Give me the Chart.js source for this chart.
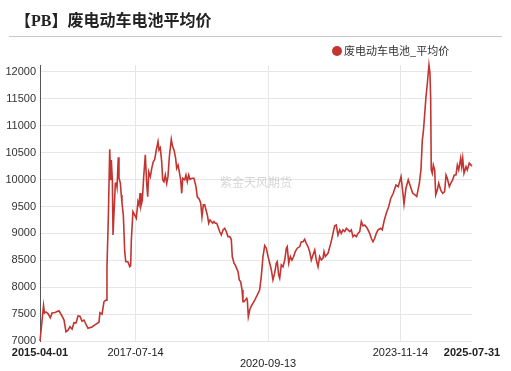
<!DOCTYPE html>
<html>
<head>
<meta charset="utf-8">
<script src="https://cdn.jsdelivr.net/npm/chart.js@4"></script>
<style>
  html, body { margin: 0; padding: 0; background: #fff; }
  #wrap { width: 511px; height: 371px; }
</style>
</head>
<body>
<div id="wrap"><canvas id="chart" width="511" height="371"></canvas></div>
<script>
var titleText = '【PB】废电动车电池平均价';
var seriesName = '废电动车电池_平均价';
var watermark = '紫金天风期货';

var dates = [
  '2015-04-01','2015-05-02','2015-05-10','2015-05-23','2015-06-10','2015-06-30','2015-07-15','2015-08-10','2015-09-14','2015-10-10',
  '2015-10-28','2015-11-14','2015-12-02','2015-12-19','2016-01-06','2016-01-23','2016-02-10','2016-02-27','2016-03-15','2016-04-02',
  '2016-04-19','2016-05-02','2016-05-24','2016-06-28','2016-08-02','2016-08-28','2016-09-06','2016-09-24','2016-10-11','2016-10-29',
  '2016-11-06','2016-11-15','2016-11-18','2016-11-30','2016-12-09','2016-12-14','2016-12-23','2016-12-29','2017-01-06','2017-01-18',
  '2017-01-27','2017-02-02','2017-02-13','2017-02-19','2017-03-03','2017-03-11','2017-03-17','2017-03-29','2017-04-10','2017-04-19',
  '2017-05-09','2017-05-24','2017-06-01','2017-06-07','2017-06-21','2017-07-06','2017-07-20','2017-08-04','2017-08-13','2017-08-22',
  '2017-08-30','2017-09-11','2017-09-23','2017-10-07','2017-10-19','2017-10-28','2017-11-06','2017-11-20','2017-12-02','2017-12-16',
  '2017-12-28','2018-01-11','2018-01-26','2018-02-04','2018-02-15','2018-02-27','2018-03-08','2018-03-19','2018-03-31','2018-04-12',
  '2018-04-23','2018-05-05','2018-05-22','2018-06-03','2018-06-15','2018-06-29','2018-07-08','2018-07-20','2018-07-31','2018-08-12',
  '2018-08-21','2018-08-30','2018-09-16','2018-09-27','2018-10-09','2018-10-21','2018-11-01','2018-11-19','2018-12-06','2018-12-24',
  '2019-01-04','2019-01-22','2019-02-03','2019-02-14','2019-02-26','2019-03-10','2019-03-21','2019-04-02','2019-04-14','2019-04-25',
  '2019-05-07','2019-05-19','2019-05-30','2019-06-10','2019-06-23','2019-07-04','2019-07-19','2019-08-02','2019-08-17','2019-09-01',
  '2019-09-15','2019-09-29','2019-10-14','2019-10-28','2019-11-06','2019-11-21','2019-12-02','2019-12-14','2019-12-26','2020-01-06',
  '2020-01-18','2020-01-30','2020-02-07','2020-02-16','2020-02-28','2020-03-11','2020-03-16','2020-03-25','2020-04-06','2020-04-20',
  '2020-05-20','2020-06-11','2020-07-02','2020-07-16','2020-07-31','2020-08-15','2020-08-29','2020-09-13','2020-09-28','2020-10-12',
  '2020-10-26','2020-11-10','2020-11-24','2020-12-03','2020-12-15','2020-12-24','2021-01-07','2021-01-22','2021-02-06','2021-02-20',
  '2021-02-28','2021-03-13','2021-03-27','2021-04-10','2021-04-25','2021-05-09','2021-05-27','2021-06-17','2021-07-01','2021-07-16',
  '2021-07-30','2021-08-13','2021-08-28','2021-09-12','2021-09-26','2021-10-11','2021-10-26','2021-11-09','2021-11-24','2021-12-08',
  '2021-12-22','2022-01-06','2022-01-15','2022-01-26','2022-02-19','2022-03-15','2022-04-04','2022-04-18','2022-05-02','2022-05-17',
  '2022-06-01','2022-06-15','2022-06-30','2022-07-15','2022-07-29','2022-08-13','2022-08-28','2022-09-11','2022-09-25','2022-10-10',
  '2022-10-24','2022-11-08','2022-11-23','2022-12-07','2022-12-22','2023-01-06','2023-01-28','2023-02-18','2023-03-04','2023-03-19',
  '2023-04-03','2023-04-17','2023-05-02','2023-05-25','2023-06-08','2023-06-23','2023-07-13','2023-08-03','2023-08-21','2023-09-12',
  '2023-10-06','2023-10-26','2023-11-19','2023-12-04','2023-12-15','2024-01-01','2024-01-21','2024-02-05','2024-02-29','2024-03-20',
  '2024-04-04','2024-04-27','2024-05-11','2024-05-23','2024-06-01','2024-06-09','2024-06-24','2024-07-06','2024-07-20','2024-07-29',
  '2024-08-04','2024-08-09','2024-08-18','2024-08-27','2024-09-08','2024-09-17','2024-10-01','2024-10-13','2024-10-31','2024-11-17',
  '2024-12-04','2024-12-16','2024-12-27','2025-01-14','2025-01-26','2025-02-12','2025-02-26','2025-03-13','2025-03-25','2025-04-06',
  '2025-04-23','2025-05-02','2025-05-11','2025-05-22','2025-06-09','2025-06-20','2025-07-07','2025-07-31'
];

var prices = [
  7000,7660,7520,7540,7510,7430,7520,7530,7560,7465,
  7390,7170,7200,7265,7220,7340,7335,7465,7460,7370,
  7390,7330,7235,7260,7315,7350,7525,7500,7730,7760,
  8380,9065,9310,10565,9990,10365,9995,8970,8970,9930,
  9935,9860,10415,10030,9935,9715,9570,9340,8660,8475,
  8470,8380,8400,8880,9405,9345,9280,9590,9530,9750,
  9510,9620,10055,10460,9930,9680,10145,10055,10210,10335,
  10375,10550,10705,10550,10590,10335,9995,9960,10085,9930,
  10055,10425,10750,10610,10550,10395,10210,10270,10145,9995,
  9745,10025,9995,10085,9960,10085,10005,10025,10025,9865,
  9680,9635,9560,9310,9530,9530,9435,9340,9190,9250,
  9220,9190,9220,9190,9190,9125,9030,8970,9065,9095,
  9030,8940,8940,8890,8565,8445,8410,8350,8290,8135,
  8100,7950,7730,7730,7760,7795,7760,7450,7575,7650,
  7760,7855,7950,8195,8570,8775,8725,8570,8445,8320,
  8135,8260,8445,8475,8225,8165,8415,8380,8505,8725,
  8755,8445,8570,8505,8570,8660,8725,8755,8845,8845,
  8890,8815,8755,8660,8505,8600,8690,8505,8380,8570,
  8505,8535,8660,8570,8630,8815,9000,9140,9155,8970,
  9065,9000,9065,9035,9095,9065,9035,9065,8940,8970,
  8940,9000,9035,9220,9140,9155,9095,9000,8910,8845,
  8910,9000,9065,9095,9065,9220,9375,9495,9650,9745,
  9900,9870,10055,9775,9545,9840,9995,9900,9745,9715,
  9685,9930,10180,10735,10890,11110,11540,11790,12130,11975,
  11480,10180,10115,10270,10180,9715,9805,9930,9805,9745,
  9775,10085,10025,9870,9930,9995,10085,10085,10270,10180,
  10395,10240,10395,10115,10240,10180,10305,10250
];

var tickDates = ['2015-04-01', '2017-07-14', '2020-09-13', '2023-11-14', '2025-07-31'];
var yTicks = [7000, 7500, 8000, 8500, 9000, 9500, 10000, 10500, 11000, 11500, 12000];

var lineColor = '#c23531';
var sansFont = '"Liberation Sans", Arial, "Noto Sans CJK SC", sans-serif';

function dayNum(s) {
  return (Date.parse(s) - Date.parse(tickDates[0])) / 86400000;
}

var points = [];
dates.forEach(function (d, i) {
  points.push({ x: dayNum(d), y: prices[i] });
});
var tickDays = tickDates.map(dayNum);

// title, separator, legend and watermark
var decor = {
  id: 'decor',
  beforeDatasetsDraw: function (chart) {
    var ctx = chart.ctx;
    ctx.save();
    ctx.font = '12px "Noto Sans CJK SC", sans-serif';
    ctx.fillStyle = 'rgba(0,0,0,0.17)';
    ctx.textBaseline = 'middle';
    ctx.textAlign = 'left';
    ctx.fillText(watermark, 220, 182);
    ctx.restore();
  },
  afterDraw: function (chart) {
    var ctx = chart.ctx;
    ctx.save();
    ctx.textBaseline = 'middle';
    ctx.textAlign = 'left';
    ctx.fillStyle = '#222';
    ctx.font = 'bold 16px "Liberation Serif", "Noto Sans CJK SC", serif';
    ctx.fillText(titleText, 15, 22);

    ctx.strokeStyle = '#c8c8c8';
    ctx.lineWidth = 1;
    ctx.beginPath();
    ctx.moveTo(9, 36.5);
    ctx.lineTo(502, 36.5);
    ctx.stroke();

    ctx.fillStyle = lineColor;
    ctx.beginPath();
    ctx.arc(337, 51, 5, 0, Math.PI * 2);
    ctx.fill();
    ctx.fillStyle = '#333';
    ctx.font = '11px "Noto Sans CJK SC", sans-serif';
    ctx.fillText(seriesName, 344, 51);
    ctx.restore();
  }
};

var ctx = document.getElementById('chart');
var myChart = new Chart(ctx, {
  type: 'line',
  data: {
    datasets: [{
      label: seriesName,
      data: points,
      borderColor: lineColor,
      borderWidth: 1.6,
      pointRadius: 0,
      tension: 0,
      clip: false
    }]
  },
  options: {
    responsive: false,
    animation: false,
    devicePixelRatio: 1,
    layout: { padding: { top: 65, right: 39, bottom: 0, left: 0 } },
    plugins: {
      legend: { display: false },
      title: { display: false },
      tooltip: { enabled: false }
    },
    scales: {
      x: {
        type: 'linear',
        min: tickDays[0],
        max: tickDays[tickDays.length - 1],
        afterFit: function (scale) { scale.height = 30; },
        afterBuildTicks: function (scale) {
          scale.ticks = tickDays.map(function (v) { return { value: v }; });
        },
        grid: {
          drawTicks: false,
          color: function (c) {
            if (c.index === 0 || c.index === tickDays.length - 1) return 'rgba(0,0,0,0)';
            return '#e6e6e6';
          }
        },
        border: { display: false },
        ticks: {
          autoSkip: false,
          maxRotation: 0,
          padding: 6,
          color: '#222',
          font: function (c) {
            var edge = c.index === 0 || c.index === tickDays.length - 1;
            return { family: sansFont, size: 11, weight: edge ? 'bold' : 'normal', lineHeight: 1 };
          },
          callback: function (v, i) {
            var label = tickDates[i];
            if (i === 2) return ['', label];
            return label;
          }
        }
      },
      y: {
        min: yTicks[0],
        max: Math.max.apply(null, prices),
        afterFit: function (scale) { scale.width = 40; },
        afterBuildTicks: function (scale) {
          scale.ticks = yTicks.map(function (v) { return { value: v }; });
        },
        grid: { drawTicks: false, color: '#e6e6e6' },
        border: { display: true, color: '#555', width: 1 },
        ticks: {
          padding: 4,
          color: '#333',
          font: { family: sansFont, size: 11 },
          callback: function (v) { return String(v); }
        }
      }
    }
  },
  plugins: [decor]
});
</script>
</body>
</html>
